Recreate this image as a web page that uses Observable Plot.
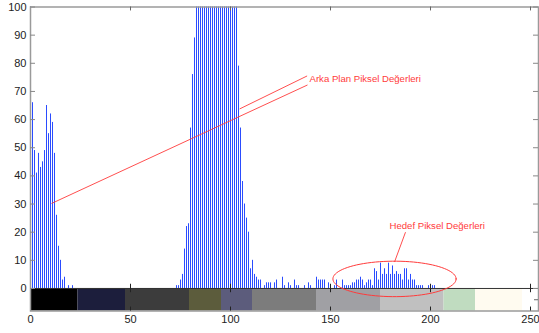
<!DOCTYPE html>
<html><head><meta charset="utf-8">
<script src="https://cdn.jsdelivr.net/npm/d3@7"></script>
<script src="https://cdn.jsdelivr.net/npm/@observablehq/plot@0.6"></script>
<style>body{margin:0;background:#fff} svg{display:block}</style>
</head><body><div id="chart"></div>
<script>
// histogram counts, bins 0..255 (values above 100 are clipped in the picture)
const counts = [
  150, 66, 49, 41, 48, 43, 45, 49, 65, 55,
  62, 59, 48, 26, 15, 10, 3, 4, 0, 1,
  0, 1, 0, 0, 0, 0, 0, 0, 0, 0,
  0, 0, 0, 0, 0, 0, 0, 0, 0, 0,
  0, 0, 0, 0, 0, 0, 0, 0, 0, 0,
  0, 0, 0, 0, 0, 0, 0, 0, 0, 0,
  0, 0, 0, 0, 0, 0, 0, 0, 0, 0,
  0, 0, 0, 1, 1, 3, 5, 14, 22, 23,
  57, 76, 89, 140, 180, 220, 260, 300, 330, 360,
  380, 390, 380, 360, 340, 320, 300, 270, 240, 210,
  180, 150, 125, 105, 79, 57, 38, 30, 25, 20,
  7, 10, 5, 4, 3, 3, 0, 1, 2, 2,
  2, 0, 2, 3, 0, 0, 4, 1, 0, 2,
  1, 0, 3, 1, 1, 0, 0, 1, 0, 2,
  1, 0, 0, 4, 3, 3, 3, 3, 0, 2,
  0, 0, 1, 3, 0, 0, 3, 1, 1, 1,
  1, 2, 2, 3, 3, 4, 3, 1, 2, 3,
  3, 1, 7, 6, 3, 9, 5, 7, 5, 9,
  5, 8, 5, 6, 5, 5, 3, 7, 7, 3,
  5, 3, 3, 1, 1, 1, 1, 0, 0, 1,
  0, 1, 1, 0, 0, 0, 0, 0, 0, 0,
  0, 0, 0, 0, 0, 0, 0, 0, 0, 0,
  0, 0, 0, 0, 0, 0, 0, 0, 0, 0,
  0, 0, 0, 0, 0, 0, 0, 0, 0, 0,
  0, 0, 0, 0, 0, 0, 0, 0, 0, 0,
  0, 0, 0, 0, 0, 0
];
const xTicks = [0, 50, 100, 150, 200, 250];
const yTicks = [0, 10, 20, 30, 40, 50, 60, 70, 80, 90, 100];
// colour bar segments
const cbStart = [0, 23.75, 47.5, 79.5, 95.5, 111, 143, 175, 206.75, 222.5];
const cbEnd   = [23.75, 47.5, 79.5, 95.5, 111, 143, 175, 206.75, 222.5, 246];
const cbColor = ["#000000", "#1c1e3c", "#3c3c3c", "#5c5c3c", "#5c5c7c", "#7c7c7c", "#a0a0a4", "#c0c0c0", "#c0dcc0", "#fffbf0"];
// annotations
const labelText = ["Arka Plan Piksel Değerleri", "Hedef Piksel Değerleri"];
const labelX = [139.5, 179.5];
const labelY = [74.3, 22.1];
const arrowX1 = [138.5, 138.3, 187.5];
const arrowY1 = [72.3, 75.5, 20.0];
const arrowX2 = [10.5, 104.6, 182.0];
const arrowY2 = [30.2, 63.8, 9.4];
const ellipseCenter = [182, 3.4];
const ellipseRadii = [30.8, 6.3];

const bins = counts.map((c, i) => ({bin: i, count: c})).filter(d => d.count > 0);
const segs = cbStart.map((s, i) => ({x1: s, x2: cbEnd[i], fill: cbColor[i]}));
const labels = labelText.map((t, i) => ({t, x: labelX[i], y: labelY[i]}));
const arrows = arrowX1.map((x, i) => ({x1: x, y1: arrowY1[i], x2: arrowX2[i], y2: arrowY2[i]}));
const ell = d3.range(0, 361, 4).map(a => ({
  x: ellipseCenter[0] + ellipseRadii[0] * Math.cos(a * Math.PI / 180),
  y: ellipseCenter[1] + ellipseRadii[1] * Math.sin(a * Math.PI / 180)
}));
const red = "#ff3b3b";

const chart = Plot.plot({
  width: 539,
  height: 333,
  marginLeft: 30,
  marginRight: 1,
  marginTop: 6.5,
  marginBottom: 22.5,
  style: {fontFamily: "'Liberation Sans', Arial, sans-serif", fontSize: "11px", color: "#222", background: "#fff"},
  x: {domain: [0, 254]},
  y: {domain: [-8, 100]},
  marks: [
    Plot.rect(segs, {x1: "x1", x2: "x2", y1: -8, y2: 0, fill: "fill"}),
    Plot.ruleX(bins, {x: "bin", y1: 0, y2: "count", stroke: "#2a4cff", strokeWidth: 1, clip: true}),
    Plot.ruleY([0], {stroke: "#333"}),
    Plot.frame({stroke: "#9a9a9a", strokeWidth: 1.5}),
    // inner ticks
    Plot.ruleY(yTicks, {y: d => d, x1: 0, x2: 2.5, stroke: "#888"}),
    Plot.ruleY(yTicks, {y: d => d, x1: 251.5, x2: 254, stroke: "#888"}),
    Plot.ruleX(xTicks.slice(1), {x: d => d, y1: 100, y2: 98.6, stroke: "#666"}),
    Plot.ruleX(xTicks.slice(1), {x: d => d, y1: -1.5, y2: 1.5, stroke: "#222"}),
    Plot.ruleX(xTicks.slice(1), {x: d => d, y1: -8, y2: -6.6, stroke: "#222"}),
    Plot.ruleY([-4], {x1: 252, x2: 254, stroke: "#666"}),
    Plot.axisY(yTicks, {tickSize: 0, tickPadding: 4, fill: "#222", fontSize: 11}),
    Plot.axisX(xTicks, {tickSize: 0, tickPadding: 4, fill: "#222", fontSize: 11}),
    // annotations
    Plot.link(arrows, {x1: "x1", y1: "y1", x2: "x2", y2: "y2", stroke: red, strokeWidth: 0.9}),
    Plot.line(ell, {x: "x", y: "y", stroke: red, strokeWidth: 1, curve: "linear-closed"}),
    Plot.text(labels, {x: "x", y: "y", text: "t", textAnchor: "start", fill: red, fontSize: 9.6})
  ]
});
document.getElementById("chart").appendChild(chart);
</script>
</body></html>
